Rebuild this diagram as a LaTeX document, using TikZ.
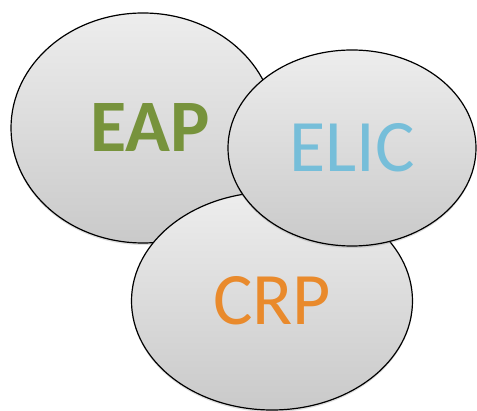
\documentclass[tikz,border=0pt]{standalone}
\usepackage{fontspec}
\setmainfont{Carlito}
\usetikzlibrary{shapes.geometric,shadows}
\definecolor{eapgreen}{RGB}{119,147,60}
\definecolor{elicblue}{RGB}{118,190,217}
\definecolor{crporange}{RGB}{233,138,44}

\begin{document}
\begin{tikzpicture}[x=1pt, y=-1pt,
	bubble/.style={ellipse, draw=black, line width=1.2pt, inner sep=0pt,
		top color=gray!14, bottom color=gray!42,
		drop shadow={shadow xshift=0pt, shadow yshift=-2pt, opacity=0.25},
		font=\fontsize{74}{74}\selectfont}]
	\useasboundingbox (0,0) rectangle (477,411);
	\node[bubble, minimum width=264pt, minimum height=230pt, text=eapgreen, font=\fontsize{74}{74}\selectfont\bfseries] (eap) at (143,128) {\hspace*{14pt}EAP};
	\node[bubble, minimum width=281pt, minimum height=218pt, text=crporange] (crp) at (272,301) {CRP};
	\node[bubble, minimum width=248pt, minimum height=196pt, text=elicblue] (elic) at (352,148) {ELIC};
\end{tikzpicture}
\end{document}
